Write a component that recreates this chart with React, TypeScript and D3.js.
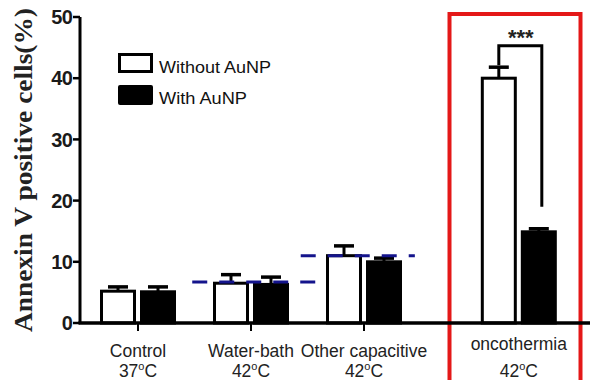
import React from "react";
import * as d3 from "d3";

const categories = ["Control", "Water-bath", "Other capacitive", "oncothermia"];
const temps = ["37", "42", "42", "42"];
const categoryPos = [0, 1, 2, 3.37];
const withoutAuNP = [5.2, 6.5, 11.0, 40.0];
const withoutErr = [0.7, 1.4, 1.6, 1.8];
const withAuNP = [5.1, 6.3, 10.0, 14.9];
const withErr = [0.8, 1.2, 0.6, 0.5];
const yTicks = [0, 10, 20, 30, 40, 50];
const seriesNames = ["Without AuNP", "With AuNP"];
const refLines = [
  { from: 0.48, to: 1.58, value: 6.7 },
  { from: 1.44, to: 2.45, value: 11.0 },
];

export default function App() {
  const W = 590, H = 380;
  const y = d3.scaleLinear().domain([0, 50]).range([323, 17]);
  const x = d3.scaleLinear().domain([0, 1]).range([138, 251]);
  const barW = 36, gap = 4;
  const navy = "#14148c";
  const sans = "Arial, 'Liberation Sans', sans-serif";

  const bars: any[] = [];
  categories.forEach((c, i) => {
    const cx = x(categoryPos[i]);
    const series = [
      { v: withoutAuNP[i], e: withoutErr[i], fill: "#fff", x0: cx - gap / 2 - barW },
      { v: withAuNP[i], e: withErr[i], fill: "#000", x0: cx + gap / 2 },
    ];
    series.forEach((s, j) => {
      const mid = s.x0 + barW / 2;
      bars.push(
        <g key={`${i}-${j}`}>
          <line x1={mid} x2={mid} y1={y(s.v)} y2={y(s.v + s.e)} stroke="#000" strokeWidth={3} />
          <line x1={mid - 10} x2={mid + 10} y1={y(s.v + s.e)} y2={y(s.v + s.e)} stroke="#000" strokeWidth={3.5} />
          <rect x={s.x0 + 1.5} y={y(s.v)} width={barW - 3} height={y(0) - y(s.v)} fill={s.fill} stroke="#000" strokeWidth={3} />
        </g>
      );
    });
  });

  const oncoX = x(categoryPos[3]);
  const wMid = oncoX - gap / 2 - barW / 2;
  const bMid = oncoX + gap / 2 + barW / 2;
  const bracketY = y(45.3);

  return (
    <svg width={W} height={H} style={{ position: "absolute", left: 0, top: 0, background: "#fff" }}>
      {/* red box */}
      <rect x={449.5} y={14} width={131} height={380} fill="none" stroke="#e41818" strokeWidth={4} />
      {bars}
      {/* reference dashed lines */}
      {refLines.map((r, k) => (
        <line key={k} x1={x(r.from)} x2={x(r.to)} y1={y(r.value)} y2={y(r.value)} stroke={navy} strokeWidth={3} strokeDasharray="15,12" />
      ))}
      {/* axes */}
      <line x1={80} x2={80} y1={y(50)} y2={y(0)} stroke="#000" strokeWidth={3} />
      <line x1={78.5} x2={W} y1={y(0)} y2={y(0)} stroke="#000" strokeWidth={3.5} />
      {yTicks.map((t) => (
        <g key={t}>
          <line x1={73} x2={80} y1={y(t)} y2={y(t)} stroke="#000" strokeWidth={2.5} />
          <text x={72} y={y(t)} dy="0.36em" textAnchor="end" fontFamily={sans} fontWeight="bold" fontSize={20} letterSpacing={-0.8} fill="#1a1a1a">{t}</text>
        </g>
      ))}
      {categories.map((c, i) => {
        const cx = x(categoryPos[i]);
        const onco = i === 3;
        return (
          <g key={c}>
            {!onco && <line x1={cx} x2={cx} y1={y(0)} y2={y(0) + 8} stroke="#000" strokeWidth={2} />}
            <text x={cx} y={onco ? 350 : 357} textAnchor="middle" fontFamily={sans} fontSize={17.5} fill="#222">{c}</text>
            <text x={cx} y={377} textAnchor="middle" fontFamily={sans} fontSize={17.5} fill="#222">
              {temps[i]}
              <tspan fontSize={11} dy={-7}>o</tspan>
              <tspan dy={7}>C</tspan>
            </text>
          </g>
        );
      })}
      {/* y label */}
      <text transform={`translate(32,170) rotate(-90)`} textAnchor="middle" fontFamily="'Liberation Serif', 'Times New Roman', serif" fontWeight="bold" fontSize={26} textLength={324} lengthAdjust="spacingAndGlyphs" fill="#222">Annexin V positive cells(%)</text>
      {/* significance */}
      <path d={`M${wMid},${y(41.8) - 2} V${bracketY} H${bMid + 3} V${y(19)}`} fill="none" stroke="#000" strokeWidth={3} />
      <text x={(wMid + bMid) / 2 + 2} y={bracketY - 1} textAnchor="middle" fontFamily={sans} fontWeight="bold" fontSize={22} fill="#222">***</text>
      {/* legend */}
      <rect x={119.5} y={54.5} width={32} height={17} fill="#fff" stroke="#000" strokeWidth={3} />
      <text x={159} y={73} fontFamily={sans} fontSize={16.5} textLength={112} lengthAdjust="spacingAndGlyphs" fill="#111">{seriesNames[0]}</text>
      <rect x={118} y={85} width={35} height={20} rx={2} fill="#000" />
      <text x={159} y={104} fontFamily={sans} fontSize={16.5} textLength={88} lengthAdjust="spacingAndGlyphs" fill="#111">{seriesNames[1]}</text>
    </svg>
  );
}
